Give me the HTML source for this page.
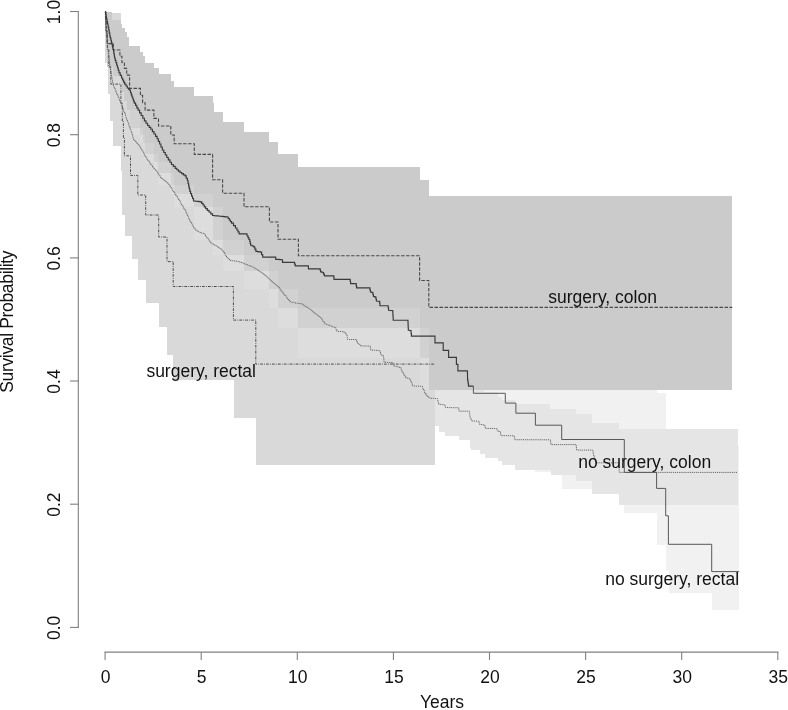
<!DOCTYPE html>
<html lang="en">
<head>
<meta charset="utf-8">
<title>Survival Probability by surgery and tumour site</title>
<style>
html,body{margin:0;padding:0;background:#fff;}
body{width:788px;height:710px;overflow:hidden;}
svg{display:block;will-change:transform;}
text{font-family:"Liberation Sans",Arial,Helvetica,sans-serif;font-size:17.5px;fill:#121212;}
</style>
</head>
<body>
<svg width="788" height="710" viewBox="0 0 788 710">
<rect x="0" y="0" width="788" height="710" fill="#ffffff"/>
<g shape-rendering="crispEdges" stroke="none">
<polygon fill="#f1f1f1" points="430.0,380.0 657.4,380.0 657.4,393.2 666.4,393.2 666.4,445.0 739.2,445.0 739.2,610.1 711.8,610.1 711.8,592.6 668.6,592.6 668.6,570.0 666.2,570.0 666.2,545.2 657.4,545.2 657.4,513.3 624.1,513.3 624.1,488.9 561.9,488.9 561.9,471.6 535.4,471.6 535.4,450.0 516.0,450.0 516.0,435.0 505.3,435.0 505.3,420.0 473.5,420.0 473.5,410.0 468.0,410.0 468.0,400.0 430.0,400.0"/>
<polygon fill="#e5e5e5" points="430.0,380.0 484.1,380.0 484.1,392.2 497.8,392.2 497.8,396.8 501.8,396.8 501.8,400.0 515.0,400.0 515.0,404.4 550.2,404.4 550.2,409.4 576.1,409.4 576.1,413.5 592.4,413.5 592.4,422.6 619.2,422.6 619.2,429.4 737.6,429.4 737.6,505.1 619.3,505.1 619.3,493.8 592.4,493.8 592.4,480.6 576.1,480.6 576.1,474.5 550.5,474.5 550.5,470.0 514.7,470.0 514.7,465.0 501.5,465.0 501.5,461.0 497.5,461.0 497.5,457.9 484.6,457.9 484.6,453.9 479.5,453.9 479.5,449.8 471.0,449.8 471.0,447.5 469.5,447.5 469.5,440.0 459.2,440.0 459.2,435.6 445.0,435.6 445.0,431.8 438.9,431.8 438.9,426.4 430.0,426.4"/>
<polygon fill="#d9d9d9" points="105.1,12.6 120.8,12.6 120.8,80.0 121.9,80.0 121.9,87.0 124.4,87.0 124.4,96.0 126.6,96.0 126.6,105.0 129.5,105.0 129.5,122.5 140.4,122.5 140.4,129.6 142.5,129.6 142.5,137.7 145.1,137.7 145.1,148.9 153.9,148.9 153.9,157.0 158.4,157.0 158.4,167.8 170.7,167.8 170.7,180.0 174.2,180.0 174.2,189.2 194.2,189.2 194.2,202.1 212.6,202.1 212.6,234.8 222.6,234.8 222.6,250.1 244.0,250.1 244.0,266.1 269.4,266.1 269.4,284.4 278.0,284.4 278.0,303.4 298.3,303.4 298.3,322.7 419.7,322.7 419.7,353.3 428.8,353.3 428.8,384.7 435.2,384.7 435.2,465.4 256.1,465.4 256.1,417.7 233.6,417.7 233.6,380.2 173.4,380.2 173.4,354.6 167.1,354.6 167.1,326.8 159.0,326.8 159.0,303.2 146.2,303.2 146.2,280.3 138.4,280.3 138.4,258.5 131.5,258.5 131.5,236.4 125.4,236.4 125.4,215.1 122.3,215.1 122.3,170.5 121.1,170.5 121.1,146.1 112.9,146.1 112.9,120.9 110.2,120.9 110.2,93.5 107.8,93.5 107.8,63.4 105.2,63.4"/>
<polygon fill="#cbcbcb" points="105.1,12.0 112.2,12.0 112.2,19.9 120.8,19.9 120.8,23.8 121.9,23.8 121.9,28.0 124.5,28.0 124.5,32.0 126.6,32.0 126.6,37.0 129.4,37.0 129.4,46.4 140.4,46.4 140.4,52.0 142.7,52.0 142.7,56.4 145.1,56.4 145.1,62.7 153.9,62.7 153.9,68.0 158.5,68.0 158.5,74.4 170.8,74.4 170.8,80.7 174.2,80.7 174.2,87.4 194.0,87.4 194.0,95.9 212.7,95.9 212.7,102.6 214.1,102.6 214.1,112.4 222.6,112.4 222.6,121.8 244.0,121.8 244.0,132.0 269.3,132.0 269.3,142.2 278.1,142.2 278.1,153.5 298.0,153.5 298.0,166.7 419.7,166.7 419.7,179.9 428.8,179.9 428.8,195.8 732.2,195.8 732.2,389.7 428.8,389.7 428.8,358.3 419.7,358.3 419.7,327.7 298.3,327.7 298.3,308.4 278.0,308.4 278.0,289.4 269.4,289.4 269.4,271.1 244.0,271.1 244.0,255.1 222.6,255.1 222.6,239.8 212.6,239.8 212.6,207.1 194.2,207.1 194.2,194.2 174.2,194.2 174.2,185.0 170.7,185.0 170.7,172.8 158.4,172.8 158.4,162.0 153.9,162.0 153.9,153.9 145.1,153.9 145.1,142.7 142.5,142.7 142.5,134.6 140.4,134.6 140.4,127.5 129.5,127.5 129.5,110.0 126.6,110.0 126.6,101.0 124.4,101.0 124.4,92.0 121.9,92.0 121.9,85.0 120.8,85.0 120.8,76.0 113.3,76.0 113.3,67.0 107.0,67.0 107.0,45.0 106.0,45.0 106.0,25.0 105.1,25.0"/>
<rect x="129.5" y="110.0" width="10.9" height="24.6" fill="#ffffff" fill-opacity="0.12"/>
<rect x="140.4" y="127.5" width="2.1" height="15.2" fill="#ffffff" fill-opacity="0.12"/>
<rect x="142.5" y="134.6" width="2.6" height="19.3" fill="#ffffff" fill-opacity="0.12"/>
<rect x="145.1" y="142.7" width="8.8" height="19.3" fill="#ffffff" fill-opacity="0.12"/>
<rect x="153.9" y="153.9" width="4.5" height="18.9" fill="#ffffff" fill-opacity="0.12"/>
<rect x="158.4" y="162.0" width="12.3" height="23.0" fill="#ffffff" fill-opacity="0.12"/>
<rect x="170.7" y="172.8" width="3.5" height="21.4" fill="#ffffff" fill-opacity="0.12"/>
<rect x="174.2" y="185.0" width="20.0" height="22.1" fill="#ffffff" fill-opacity="0.12"/>
<rect x="194.2" y="194.2" width="18.4" height="45.6" fill="#ffffff" fill-opacity="0.12"/>
<rect x="212.6" y="207.1" width="10.0" height="48.0" fill="#ffffff" fill-opacity="0.12"/>
<rect x="222.6" y="239.8" width="21.4" height="31.3" fill="#ffffff" fill-opacity="0.12"/>
<rect x="244.0" y="255.1" width="25.4" height="34.3" fill="#ffffff" fill-opacity="0.12"/>
<rect x="269.4" y="271.1" width="8.6" height="37.3" fill="#ffffff" fill-opacity="0.12"/>
<rect x="278.0" y="289.4" width="20.3" height="38.3" fill="#ffffff" fill-opacity="0.12"/>
<rect x="298.3" y="308.4" width="121.4" height="49.9" fill="#ffffff" fill-opacity="0.12"/>
<rect x="419.7" y="327.7" width="9.1" height="62.0" fill="#ffffff" fill-opacity="0.12"/>
</g>
<g fill="none" stroke-linejoin="miter">
<polyline stroke="#666666" stroke-width="1" stroke-dasharray="1.2 0.9" points="105.1,11.8 105.2,11.8 105.2,13.8 105.3,13.8 105.3,15.9 105.4,15.9 105.4,17.9 105.6,17.9 105.6,19.9 105.7,19.9 105.7,22.0 105.8,22.0 105.8,24.0 105.9,24.0 105.9,26.0 106.0,26.0 106.0,28.0 106.2,28.0 106.2,30.0 106.3,30.0 106.3,32.0 106.4,32.0 106.4,34.0 106.5,34.0 106.5,36.0 106.7,36.0 106.7,38.0 106.9,38.0 106.9,40.0 107.1,40.0 107.1,42.0 107.3,42.0 107.3,44.0 107.5,44.0 107.5,46.0 107.7,46.0 107.7,47.8 107.9,47.8 107.9,49.6 108.1,49.6 108.1,51.4 108.3,51.4 108.3,53.2 108.5,53.2 108.5,55.0 108.8,55.0 108.8,57.0 109.0,57.0 109.0,59.0 109.2,59.0 109.2,61.0 109.5,61.0 109.5,63.0 109.8,63.0 109.8,64.8 110.0,64.8 110.0,66.5 110.2,66.5 110.2,68.2 110.5,68.2 110.5,70.0 110.8,70.0 110.8,72.0 111.1,72.0 111.1,74.0 111.4,74.0 111.4,76.0 111.8,76.0 111.8,78.1 112.1,78.1 112.1,80.1 112.4,80.1 112.4,82.1 112.7,82.1 112.7,84.1 113.5,84.1 113.5,86.1 114.2,86.1 114.2,88.0 115.0,88.0 115.0,90.0 115.8,90.0 115.8,92.0 116.6,92.0 116.6,93.8 117.4,93.8 117.4,95.7 118.2,95.7 118.2,97.5 119.0,97.5 119.0,99.3 119.8,99.3 119.8,101.3 120.6,101.3 120.6,103.4 121.4,103.4 121.4,105.5 122.2,105.5 122.2,107.5 123.0,107.5 123.0,109.6 123.8,109.6 123.8,111.7 124.6,111.7 124.6,113.7 125.4,113.7 125.4,115.8 126.0,115.8 126.0,117.6 126.6,117.6 126.6,119.5 127.3,119.5 127.3,121.3 127.9,121.3 127.9,123.2 128.5,123.2 128.5,125.0 129.3,125.0 129.3,127.2 130.1,127.2 130.1,129.3 130.9,129.3 130.9,131.4 131.7,131.4 131.7,133.6 132.3,133.6 132.3,135.7 132.9,135.7 132.9,137.9 133.5,137.9 133.5,140.0 134.8,140.0 134.8,141.3 136.2,141.3 136.2,142.7 137.5,142.7 137.5,144.0 138.6,144.0 138.6,145.6 139.7,145.6 139.7,147.2 140.8,147.2 140.8,148.9 141.9,148.9 141.9,150.5 142.9,150.5 142.9,152.3 143.8,152.3 143.8,154.0 144.8,154.0 144.8,155.8 145.7,155.8 145.7,157.5 146.7,157.5 146.7,159.3 148.0,159.3 148.0,161.1 149.3,161.1 149.3,162.9 150.7,162.9 150.7,164.7 152.0,164.7 152.0,166.5 153.2,166.5 153.2,167.9 154.4,167.9 154.4,169.3 155.5,169.3 155.5,170.7 156.7,170.7 156.7,172.1 157.9,172.1 157.9,173.5 158.9,173.5 158.9,175.4 160.0,175.4 160.0,177.4 161.2,177.4 161.2,178.3 162.4,178.3 162.4,179.2 163.7,179.2 163.7,180.2 164.9,180.2 164.9,181.1 166.1,181.1 166.1,182.0 167.1,182.0 167.1,183.0 168.0,183.0 168.0,184.0 169.0,184.0 169.0,185.0 170.2,185.0 170.2,186.9 171.3,186.9 171.3,188.8 172.5,188.8 172.5,190.7 173.7,190.7 173.7,192.6 174.9,192.6 174.9,194.4 176.1,194.4 176.1,196.3 177.4,196.3 177.4,198.1 178.6,198.1 178.6,200.0 179.8,200.0 179.8,201.8 180.7,201.8 180.7,203.4 181.5,203.4 181.5,205.0 182.7,205.0 182.7,207.0 183.9,207.0 183.9,208.9 185.1,208.9 185.1,210.9 186.0,210.9 186.0,212.8 186.9,212.8 186.9,214.7 187.7,214.7 187.7,216.7 188.6,216.7 188.6,218.6 189.5,218.6 189.5,220.5 190.3,220.5 190.3,222.0 191.2,222.0 191.2,223.5 192.0,223.5 192.0,225.0 193.1,225.0 193.1,226.7 194.1,226.7 194.1,228.5 195.2,228.5 195.2,230.2 196.4,230.2 196.4,230.8 197.6,230.8 197.6,231.3 198.7,231.3 198.7,231.9 199.9,231.9 199.9,232.4 201.1,232.4 201.1,233.0 202.3,233.0 202.3,233.3 203.6,233.3 203.6,233.6 204.8,233.6 204.8,235.3 206.0,235.3 206.0,237.0 207.2,237.0 207.2,238.6 208.4,238.6 208.4,240.1 209.6,240.1 209.6,241.6 210.8,241.6 210.8,243.2 212.1,243.2 212.1,243.9 213.4,243.9 213.4,244.6 214.7,244.6 214.7,245.3 216.0,245.3 216.0,246.0 217.3,246.0 217.3,246.9 218.7,246.9 218.7,247.9 220.0,247.9 220.0,248.9 221.3,248.9 221.3,249.8 222.2,249.8 222.2,250.7 223.0,250.7 223.0,251.5 224.2,251.5 224.2,253.6 225.3,253.6 225.3,255.6 226.5,255.6 226.5,257.7 227.7,257.7 227.7,258.6 228.8,258.6 228.8,259.6 230.0,259.6 230.0,260.5 231.2,260.5 231.2,260.6 232.4,260.6 232.4,260.8 233.7,260.8 233.7,260.9 234.9,260.9 234.9,261.1 236.1,261.1 236.1,261.2 237.3,261.2 237.3,261.5 238.5,261.5 238.5,261.8 239.7,261.8 239.7,262.2 240.9,262.2 240.9,262.5 242.1,262.5 242.1,262.8 243.1,262.8 243.1,263.3 244.2,263.3 244.2,263.8 245.2,263.8 245.2,264.3 246.4,264.3 246.4,264.7 247.6,264.7 247.6,265.1 248.8,265.1 248.8,265.6 250.0,265.6 250.0,266.0 251.1,266.0 251.1,266.5 252.2,266.5 252.2,267.1 253.3,267.1 253.3,267.6 254.4,267.6 254.4,268.1 255.8,268.1 255.8,269.1 257.2,269.1 257.2,270.1 258.6,270.1 258.6,271.0 260.0,271.0 260.0,272.0 261.2,272.0 261.2,272.9 262.5,272.9 262.5,273.9 263.8,273.9 263.8,274.8 265.0,274.8 265.0,275.7 266.2,275.7 266.2,276.8 267.5,276.8 267.5,277.9 268.8,277.9 268.8,278.9 270.0,278.9 270.0,280.0 271.1,280.0 271.1,281.0 272.3,281.0 272.3,281.9 273.4,281.9 273.4,282.9 274.6,282.9 274.6,283.8 275.7,283.8 275.7,284.8 277.0,284.8 277.0,286.2 278.2,286.2 278.2,287.6 279.5,287.6 279.5,289.0 280.8,289.0 280.8,290.7 282.0,290.7 282.0,292.3 283.3,292.3 283.3,294.0 284.6,294.0 284.6,295.5 286.0,295.5 286.0,297.0 287.1,297.0 287.1,298.5 288.3,298.5 288.3,300.1 289.4,300.1 289.4,301.6 290.5,301.6 290.5,301.9 291.6,301.9 291.6,302.2 292.8,302.2 292.8,302.4 293.9,302.4 293.9,302.7 295.0,302.7 295.0,303.0 296.3,303.0 296.3,303.2 297.6,303.2 297.6,303.4 299.0,303.4 299.0,303.5 300.3,303.5 300.3,303.7 301.6,303.7 301.6,303.9 302.7,303.9 302.7,304.8 303.9,304.8 303.9,305.6 305.0,305.6 305.0,306.5 306.4,306.5 306.4,307.4 307.8,307.4 307.8,308.3 309.2,308.3 309.2,309.2 310.4,309.2 310.4,310.1 311.6,310.1 311.6,311.1 312.8,311.1 312.8,312.1 314.0,312.1 314.0,313.0 315.2,313.0 315.2,313.9 316.3,313.9 316.3,314.8 317.5,314.8 317.5,315.8 318.6,315.8 318.6,316.7 319.8,316.7 319.8,317.6 320.9,317.6 320.9,318.8 322.0,318.8 322.0,320.0 323.2,320.0 323.2,321.9 324.4,321.9 324.4,323.7 325.5,323.7 325.5,324.1 326.6,324.1 326.6,324.5 327.8,324.5 327.8,325.0 328.9,325.0 328.9,325.4 330.0,325.4 330.0,325.8 331.3,325.8 331.3,326.3 332.6,326.3 332.6,326.8 334.0,326.8 334.0,327.3 335.3,327.3 335.3,327.8 336.1,327.8 336.1,329.6 336.9,329.6 336.9,331.3 342.9,331.6 344.2,331.6 344.2,332.9 345.5,332.9 345.5,334.1 346.8,334.1 346.8,335.4 347.1,335.4 347.1,337.4 347.5,337.4 347.5,339.5 355.9,339.5 356.6,339.5 356.6,341.4 357.4,341.4 357.4,343.4 358.4,343.4 358.4,344.3 359.5,344.3 359.5,345.1 360.5,345.1 360.5,346.0 369.9,346.0 370.4,346.0 370.4,348.1 370.8,348.1 370.8,350.1 372.0,350.1 372.0,350.2 373.3,350.2 373.3,350.2 374.5,350.2 374.5,350.3 375.8,350.3 375.8,350.4 377.0,350.4 377.0,350.5 378.3,350.5 378.3,350.5 379.5,350.5 379.5,350.6 380.0,350.6 380.0,352.1 380.5,352.1 380.5,353.7 381.0,353.7 381.0,355.2 382.1,355.2 382.1,355.4 383.3,355.4 383.3,355.6 383.5,355.6 383.5,357.3 383.7,357.3 383.7,359.0 383.9,359.0 383.9,360.6 384.1,360.6 384.1,362.3 392.5,362.5 393.0,362.5 393.0,364.2 393.5,364.2 393.5,366.0 394.9,366.0 394.9,366.3 396.2,366.3 396.2,366.6 397.6,366.6 397.6,367.0 398.9,367.0 398.9,367.3 400.3,367.3 400.3,367.6 401.1,367.6 401.1,369.8 402.0,369.8 402.0,372.0 403.1,372.0 403.1,373.9 404.3,373.9 404.3,375.8 405.4,375.8 405.4,377.7 406.7,377.7 406.7,378.0 408.1,378.0 408.1,378.4 409.4,378.4 409.4,378.7 410.2,378.7 410.2,380.5 410.9,380.5 410.9,382.2 411.7,382.2 411.7,384.0 412.5,384.0 412.5,385.8 413.8,385.8 413.8,385.9 415.1,385.9 415.1,386.0 416.4,386.0 416.4,386.1 417.7,386.1 417.7,386.1 419.0,386.1 419.0,386.2 420.3,386.2 420.3,386.3 421.6,386.3 421.6,386.4 422.6,386.4 422.6,388.5 423.6,388.5 423.6,390.7 424.7,390.7 424.7,392.9 425.7,392.9 425.7,395.0 427.0,395.0 427.0,396.1 428.4,396.1 428.4,397.1 429.7,397.1 429.7,398.2 430.9,398.2 430.9,398.3 432.2,398.3 432.2,398.4 433.4,398.4 433.4,398.4 434.7,398.4 434.7,398.5 435.9,398.5 435.9,398.6 437.2,398.6 437.2,398.7 437.7,398.7 437.7,400.6 438.2,400.6 438.2,402.4 438.7,402.4 438.7,404.3 439.9,404.3 439.9,404.4 441.1,404.4 441.1,404.5 442.3,404.5 442.3,404.7 443.5,404.7 443.5,404.8 444.7,404.8 444.7,404.9 445.1,404.9 445.1,406.2 445.5,406.2 445.5,407.5 458.4,407.8 458.8,407.8 458.8,409.5 459.1,409.5 459.1,411.2 469.3,411.2 469.5,411.2 469.5,413.0 469.7,413.0 469.7,414.8 469.9,414.8 469.9,416.5 470.1,416.5 470.1,418.3 470.8,418.3 470.8,419.6 471.4,419.6 471.4,420.9 478.4,421.2 478.9,421.2 478.9,422.8 479.5,422.8 479.5,424.3 480.7,424.3 480.7,424.5 481.9,424.5 481.9,424.7 483.1,424.7 483.1,424.9 484.3,424.9 484.3,425.1 484.8,425.1 484.8,426.8 485.2,426.8 485.2,428.4 496.5,428.5 496.9,428.5 496.9,429.8 497.3,429.8 497.3,431.0 498.3,431.0 498.3,431.3 499.4,431.3 499.4,431.5 500.4,431.5 500.4,431.8 500.6,431.8 500.6,433.7 500.8,433.7 500.8,435.6 513.7,435.8 514.2,435.8 514.2,437.8 514.7,437.8 514.7,439.7 550.2,439.8 550.4,439.8 550.4,441.4 550.7,441.4 550.7,443.0 550.9,443.0 550.9,444.6 576.1,444.6 576.3,444.6 576.3,446.4 576.4,446.4 576.4,448.3 576.6,448.3 576.6,450.1 592.4,450.1 592.9,450.1 592.9,452.1 593.3,452.1 593.3,454.1 593.8,454.1 593.8,456.1 594.3,456.1 594.3,457.8 594.8,457.8 594.8,459.5 595.3,459.5 595.3,461.1 595.8,461.1 595.8,462.8 619.2,462.8 619.2,472.4 737.8,472.4"/>
<polyline stroke="#4a4a4a" stroke-width="1" stroke-dasharray="2.7 1.2 0.8 1.2" points="105.1,11.8 105.9,11.8 105.9,31.0 107.3,31.0 107.3,50.0 108.8,50.0 108.8,67.0 110.8,67.0 110.8,84.1 120.9,84.1 120.9,103.0 122.3,103.0 122.3,121.0 123.4,121.0 123.4,138.0 124.4,138.0 124.4,155.8 130.5,155.8 130.5,175.4 137.8,175.4 137.8,195.0 145.7,195.0 145.7,215.0 158.7,215.0 158.7,237.0 167.0,237.0 167.0,261.6 173.2,261.6 173.2,286.5 233.4,286.5 233.4,320.1 255.8,320.1 255.8,364.1 435.0,364.1"/>
<polyline stroke="#4a4a4a" stroke-width="1.1" stroke-dasharray="3.5 1.5" points="105.1,11.8 105.6,11.8 105.6,20.0 106.2,20.0 106.2,28.0 106.8,28.0 106.8,36.0 107.2,36.0 107.2,43.6 113.3,43.6 113.3,50.0 119.9,50.0 119.9,56.3 121.9,56.3 121.9,62.5 124.4,62.5 124.4,68.4 126.7,68.4 126.7,75.1 129.6,75.1 129.6,88.4 140.4,88.4 140.4,95.4 142.6,95.4 142.6,102.7 145.1,102.7 145.1,110.1 153.9,110.1 153.9,118.4 158.5,118.4 158.5,126.0 170.8,126.0 170.8,135.0 174.2,135.0 174.2,143.8 194.3,143.8 194.3,154.4 212.6,154.4 212.6,179.8 222.6,179.8 222.6,193.2 244.0,193.2 244.0,206.8 269.4,206.8 269.4,222.0 278.0,222.0 278.0,239.2 298.4,239.2 298.4,255.8 419.6,255.8 419.6,280.5 428.8,280.5 428.8,307.4 732.2,307.4"/>
<polyline stroke="#3a3a3a" stroke-width="1.15" points="105.1,11.8 105.6,11.8 105.6,14.2 106.1,14.2 106.1,16.7 106.5,16.7 106.5,19.1 107.0,19.1 107.0,21.6 107.5,21.6 107.5,24.0 108.1,24.0 108.1,27.0 108.7,27.0 108.7,30.0 109.2,30.0 109.2,33.0 109.8,33.0 109.8,36.0 110.3,36.0 110.3,38.1 110.9,38.1 110.9,40.2 111.4,40.2 111.4,42.3 112.0,42.3 112.0,44.7 112.5,44.7 112.5,47.1 113.0,47.1 113.0,49.5 113.6,49.5 113.6,51.9 113.9,51.9 113.9,53.9 114.3,53.9 114.3,56.0 114.6,56.0 114.6,58.0 115.2,58.0 115.2,60.3 115.9,60.3 115.9,62.6 116.7,62.6 116.7,65.2 117.5,65.2 117.5,67.7 118.2,67.7 118.2,70.2 119.0,70.2 119.0,72.8 120.2,72.8 120.2,75.4 121.5,75.4 121.5,78.0 122.6,78.0 122.6,80.0 123.6,80.0 123.6,82.1 124.7,82.1 124.7,84.1 126.0,84.1 126.0,86.0 127.3,86.0 127.3,88.0 128.6,88.0 128.6,89.2 129.8,89.2 129.8,90.5 130.5,90.5 130.5,92.7 131.3,92.7 131.3,94.8 132.0,94.8 132.0,97.0 132.8,97.0 132.8,99.0 133.5,99.0 133.5,101.1 134.3,101.1 134.3,103.1 135.6,103.1 135.6,105.4 136.8,105.4 136.8,107.8 138.1,107.8 138.1,110.1 139.6,110.1 139.6,112.8 141.2,112.8 141.2,115.5 142.8,115.5 142.8,118.2 144.4,118.2 144.4,120.9 146.0,120.9 146.0,123.2 147.6,123.2 147.6,125.5 149.2,125.5 149.2,127.3 150.8,127.3 150.8,129.2 152.4,129.2 152.4,131.6 154.0,131.6 154.0,134.0 155.6,134.0 155.6,136.3 157.1,136.3 157.1,138.7 158.3,138.7 158.3,141.3 159.6,141.3 159.6,144.0 160.9,144.0 160.9,147.0 162.3,147.0 162.3,150.0 163.8,150.0 163.8,152.5 165.3,152.5 165.3,155.0 166.8,155.0 166.8,157.5 168.3,157.5 168.3,159.8 169.9,159.8 169.9,162.2 171.4,162.2 171.4,164.5 173.3,164.5 173.3,166.4 175.2,166.4 175.2,168.3 176.8,168.3 176.8,169.7 178.4,169.7 178.4,171.1 180.0,171.1 180.0,172.5 181.7,172.5 181.7,173.6 183.4,173.6 183.4,174.8 185.1,174.8 185.1,175.9 186.2,175.9 186.2,178.2 187.4,178.2 187.4,180.5 188.0,180.5 188.0,183.2 188.6,183.2 188.6,185.8 189.1,185.8 189.1,188.4 189.7,188.4 189.7,191.1 190.6,191.1 190.6,193.6 191.6,193.6 191.6,196.1 192.6,196.1 192.6,198.5 193.5,198.5 193.5,201.0 195.2,201.0 195.2,201.2 196.9,201.2 196.9,201.4 198.7,201.4 198.7,201.6 200.4,201.6 200.4,201.8 201.7,201.8 201.7,203.4 203.0,203.4 203.0,205.0 204.3,205.0 204.3,206.8 205.7,206.8 205.7,208.6 207.3,208.6 207.3,210.3 209.0,210.3 209.0,212.0 210.8,212.0 210.8,213.8 212.5,213.8 212.5,215.5 214.2,215.5 214.2,215.7 216.0,215.7 216.0,215.8 217.8,215.8 217.8,216.0 219.5,216.0 219.5,216.2 221.4,216.2 221.4,216.4 223.2,216.4 223.2,216.6 225.1,216.6 225.1,216.8 227.0,216.8 227.0,217.0 228.2,217.0 228.2,218.5 229.3,218.5 229.3,220.0 230.4,220.0 230.4,221.6 231.6,221.6 231.6,223.1 233.5,223.1 233.5,225.6 235.4,225.6 235.4,228.0 236.9,228.0 236.9,230.0 238.0,230.0 238.0,231.9 239.1,231.9 239.1,233.8 246.0,233.8 247.0,233.8 247.0,235.7 248.0,235.7 248.0,237.6 248.9,237.6 248.9,239.5 249.8,239.5 249.8,241.4 250.2,241.4 250.2,243.3 250.6,243.3 250.6,245.2 252.1,245.2 252.1,246.0 253.6,246.0 253.6,246.8 254.8,246.8 254.8,249.1 255.9,249.1 255.9,251.3 257.4,251.3 257.4,251.6 259.0,251.6 259.0,251.8 260.5,251.8 260.5,252.1 261.6,252.1 261.6,254.6 262.7,254.6 262.7,257.1 274.9,257.1 275.7,257.1 275.7,259.3 277.5,259.3 277.5,259.4 279.2,259.4 279.2,259.6 281.0,259.6 281.0,259.7 282.5,259.7 282.5,262.3 294.0,262.3 294.6,262.3 294.6,264.1 295.2,264.1 295.2,265.8 307.7,265.8 308.4,265.8 308.4,268.8 319.8,268.8 320.2,268.8 320.2,270.4 320.6,270.4 320.6,271.9 321.8,271.9 321.8,272.2 322.9,272.2 322.9,272.6 323.6,272.6 323.6,274.2 324.4,274.2 324.4,275.8 333.5,275.8 333.8,275.8 333.8,277.6 334.0,277.6 334.0,279.4 349.9,279.4 350.2,279.4 350.2,281.5 350.6,281.5 350.6,283.6 355.9,283.6 356.2,283.6 356.2,285.8 356.6,285.8 356.6,287.9 369.5,287.9 369.9,287.9 369.9,289.9 370.4,289.9 370.4,292.0 371.5,292.0 371.5,292.4 372.6,292.4 372.6,292.7 373.0,292.7 373.0,294.6 373.4,294.6 373.4,296.5 374.5,296.5 374.5,296.9 375.7,296.9 375.7,297.3 376.0,297.3 376.0,299.2 376.4,299.2 376.4,301.1 379.5,301.4 379.7,301.4 379.7,303.5 379.9,303.5 379.9,305.7 387.9,305.7 388.2,305.7 388.2,308.0 388.6,308.0 388.6,310.3 392.7,310.6 392.8,310.6 392.8,313.0 392.9,313.0 392.9,315.4 393.1,315.4 393.1,317.8 393.2,317.8 393.2,320.2 407.9,320.2 408.0,320.2 408.0,322.7 408.1,322.7 408.1,325.2 408.2,325.2 408.2,327.7 408.3,327.7 408.3,330.2 409.6,330.2 409.6,330.5 410.9,330.5 410.9,330.8 411.1,330.8 411.1,333.5 411.4,333.5 411.4,336.1 435.0,336.1 435.0,342.9 443.2,342.9 443.2,350.4 448.6,350.4 448.6,357.4 456.4,357.4 456.4,364.4 457.9,364.4 457.9,370.9 467.4,370.9 467.6,379.6 467.9,379.6 467.9,381.8 468.2,381.8 468.2,383.9 468.5,383.9 468.5,386.1 473.4,386.1"/>
<polyline stroke="#585858" stroke-width="1.0" points="473.4,386.1 473.4,393.3 505.3,393.3 505.3,403.1 515.9,403.1 515.9,413.2 535.4,413.2 535.4,425.2 561.7,425.2 561.7,439.5 624.3,439.5 624.3,472.4 656.6,472.4 656.6,488.4 665.7,488.4 665.7,515.8 668.4,515.8 668.4,544.3 711.7,544.3 711.7,571.6 739.1,571.6"/>
</g>
<g fill="none" stroke="#808080" stroke-width="1.1">
<path d="M78.3,11.4 V627.4"/>
<path d="M70,627.4 H78.9"/>
<path d="M70,504.2 H78.9"/>
<path d="M70,381.0 H78.9"/>
<path d="M70,257.9 H78.9"/>
<path d="M70,134.7 H78.9"/>
<path d="M70,11.5 H78.9"/>
<path d="M104.5,652.1 H778.4"/>
<path d="M105.1,652.1 V660"/>
<path d="M201.2,652.1 V660"/>
<path d="M297.3,652.1 V660"/>
<path d="M393.4,652.1 V660"/>
<path d="M489.5,652.1 V660"/>
<path d="M585.6,652.1 V660"/>
<path d="M681.7,652.1 V660"/>
<path d="M777.8,652.1 V660"/>
</g>
<g text-anchor="middle">
<text x="105.6" y="682.5" font-size="17.4">0</text>
<text x="201.7" y="682.5" font-size="17.4">5</text>
<text x="297.8" y="682.5" font-size="17.4">10</text>
<text x="393.9" y="682.5" font-size="17.4">15</text>
<text x="490.0" y="682.5" font-size="17.4">20</text>
<text x="586.1" y="682.5" font-size="17.4">25</text>
<text x="682.2" y="682.5" font-size="17.4">30</text>
<text x="778.3" y="682.5" font-size="17.4">35</text>
<text x="442" y="708">Years</text>
<text transform="translate(60.2,627.9) rotate(-90)" font-size="17.4">0.0</text>
<text transform="translate(60.2,504.7) rotate(-90)" font-size="17.4">0.2</text>
<text transform="translate(60.2,381.5) rotate(-90)" font-size="17.4">0.4</text>
<text transform="translate(60.2,258.4) rotate(-90)" font-size="17.4">0.6</text>
<text transform="translate(60.2,135.2) rotate(-90)" font-size="17.4">0.8</text>
<text transform="translate(60.2,12.0) rotate(-90)" font-size="17.4">1.0</text>
<text transform="translate(13.3,321.6) rotate(-90)" textLength="142.3" lengthAdjust="spacing">Survival Probability</text>
</g>
<g>
<text x="548.3" y="302.6">surgery, colon</text>
<text x="146.4" y="377">surgery, rectal</text>
<text x="578.2" y="467.5">no surgery, colon</text>
<text x="605.2" y="584.9">no surgery, rectal</text>
</g>
</svg>
</body>
</html>
